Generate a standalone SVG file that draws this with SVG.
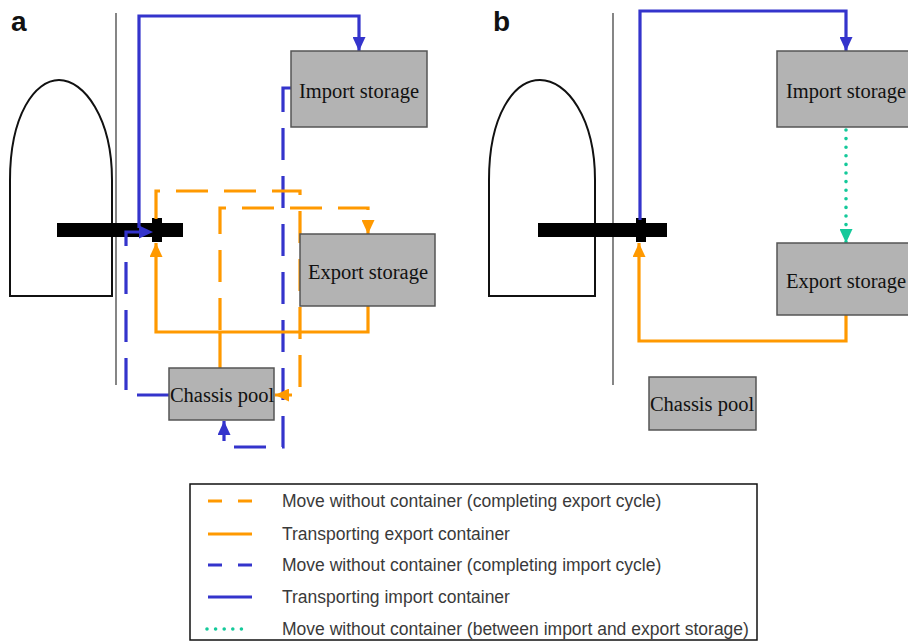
<svg xmlns="http://www.w3.org/2000/svg" width="908" height="644" viewBox="0 0 908 644">
<style>
.lbl{font-family:"Liberation Sans",Arial,sans-serif;font-weight:bold;font-size:28px;fill:#111}
.wall{stroke:#444;stroke-width:1.3;fill:none}
.ship{stroke:#111;stroke-width:2;fill:#fff}
.bar{fill:#000}
.box{fill:#b3b3b3;stroke:#555;stroke-width:1.5}
.bt{font-family:"Liberation Serif","Times New Roman",serif;font-size:20.5px;fill:#111;text-anchor:middle}
.c{fill:none;stroke-width:3.2;stroke-linejoin:miter}
.or{stroke:#ff9900}
.bl{stroke:#3434cc}
.gr{stroke:#14c99a}
.dash{stroke-dasharray:32 16}
.dot{stroke-dasharray:0 8.6;stroke-linecap:round;stroke-width:3.6}
.lt{font-family:"Liberation Sans",Arial,sans-serif;font-size:17.5px;fill:#3a3a3a}
</style>
<defs>
<marker id="aO" markerUnits="userSpaceOnUse" markerWidth="14" markerHeight="13" refX="14" refY="6.5" orient="auto"><path d="M0,0 L14,6.5 L0,13 Z" fill="#ff9900"/></marker>
<marker id="aB" markerUnits="userSpaceOnUse" markerWidth="14" markerHeight="13" refX="14" refY="6.5" orient="auto"><path d="M0,0 L14,6.5 L0,13 Z" fill="#3434cc"/></marker>
<marker id="aG" markerUnits="userSpaceOnUse" markerWidth="14" markerHeight="13" refX="14" refY="6.5" orient="auto"><path d="M0,0 L14,6.5 L0,13 Z" fill="#14c99a"/></marker>
</defs>
<rect width="908" height="644" fill="#fff"/>

<!-- Panel a -->
<g id="panel-a">
<text class="lbl" x="11" y="31">a</text>
<line class="wall" x1="116" y1="13" x2="116" y2="385"/>
<path class="ship" d="M10,296 L10,180 C10,115 35,80 59,80 C84,80 112,118 112,180 L112,296 Z"/>
<rect class="bar" x="57" y="223" width="126" height="14"/>
<rect class="bar" x="152" y="218" width="10" height="24"/>
</g>

<g id="connectors-a">
<path class="c bl" d="M139,228 L139,16 L359,16 L359,51" marker-end="url(#aB)"/>
<path class="c bl dash" d="M169,395 L126,395 L126,232 L153,232" marker-end="url(#aB)"/>
<path class="c bl dash" d="M291,88 L283,88 L283,447 L224,447 L224,421" marker-end="url(#aB)"/>
<path class="c or dash" d="M156,219 L156,191 L300,191 L300,395 L275,395" marker-end="url(#aO)"/>
<path class="c or dash" d="M220,330 L220,208 L368,208 L368,234" marker-end="url(#aO)"/>
<path class="c or" d="M368,306 L368,332 L156,332 L156,243" marker-end="url(#aO)"/>
<path class="c or" d="M220,368 L220,332"/>
</g>

<g id="import-a"><rect class="box" x="291" y="51" width="136" height="76"/><text class="bt" x="359" y="98">Import storage</text></g>
<g id="export-a"><rect class="box" x="300" y="234" width="135" height="72"/><text class="bt" x="368" y="279">Export storage</text></g>
<g id="chassis-a"><rect class="box" x="169" y="368" width="105" height="52"/><text class="bt" x="222" y="402">Chassis pool</text></g>

<!-- Panel b -->
<g id="panel-b">
<text class="lbl" x="493" y="31">b</text>
<line class="wall" x1="613" y1="13" x2="613" y2="385"/>
<path class="ship" d="M489,296 L489,180 C489,115 514,80 540,80 C567,80 595,118 595,180 L595,296 Z"/>
<rect class="bar" x="538" y="223" width="129" height="14"/>
<rect class="bar" x="636" y="218" width="10" height="24"/>
</g>

<g id="connectors-b">
<path class="c bl" d="M640,220 L640,11 L846,11 L846,51" marker-end="url(#aB)"/>
<path class="c gr dot" d="M846,130 L846,243" marker-end="url(#aG)"/>
<path class="c or" d="M846,315 L846,341 L639,341 L639,243" marker-end="url(#aO)"/>
</g>

<g id="import-b"><rect class="box" x="777" y="51" width="140" height="76"/><text class="bt" x="846" y="98">Import storage</text></g>
<g id="export-b"><rect class="box" x="777" y="243" width="140" height="72"/><text class="bt" x="846" y="288">Export storage</text></g>
<g id="chassis-b"><rect class="box" x="649" y="377" width="107" height="53"/><text class="bt" x="702" y="411">Chassis pool</text></g>

<!-- Legend -->
<g id="legend">
<rect x="190" y="484" width="567" height="156" fill="#fff" stroke="#111" stroke-width="1.5"/>
<line class="c or" x1="208" y1="501" x2="252" y2="501" stroke-dasharray="14 16"/>
<text class="lt" x="282" y="507">Move without container (completing export cycle)</text>
<line class="c or" x1="208" y1="534" x2="252" y2="534"/>
<text class="lt" x="282" y="540">Transporting export container</text>
<line class="c bl" x1="208" y1="565" x2="252" y2="565" stroke-dasharray="14 16"/>
<text class="lt" x="282" y="571">Move without container (completing import cycle)</text>
<line class="c bl" x1="208" y1="597" x2="252" y2="597"/>
<text class="lt" x="282" y="603">Transporting import container</text>
<line class="c gr dot" x1="207" y1="629" x2="245" y2="629"/>
<text class="lt" x="282" y="635">Move without container (between import and export storage)</text>
</g>
</svg>
